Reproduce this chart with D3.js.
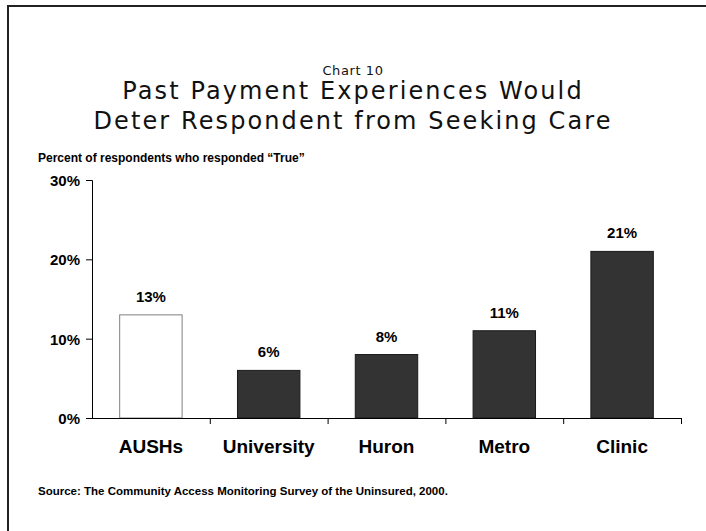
<!DOCTYPE html>
<html>
<head>
<meta charset="utf-8">
<script src="https://cdn.jsdelivr.net/npm/d3@7"></script>
<style>
  html, body { margin: 0; padding: 0; background: #fff; }
  svg { display: block; }
</style>
</head>
<body>
<svg id="chart" width="706" height="531"></svg>
<script>
const categories = ["AUSHs", "University", "Huron", "Metro", "Clinic"];
const values = [13, 6, 8, 11, 21];
const yTicks = [0, 10, 20, 30];
const chartNumber = "Chart 10";
const titleLines = ["Past Payment Experiences Would", "Deter Respondent from Seeking Care"];
const yAxisTitle = "Percent of respondents who responded \u201cTrue\u201d";
const sourceNote = "Source: The Community Access Monitoring Survey of the Uninsured, 2000.";

const svg = d3.select("#chart");
const W = 706, H = 531;

// Outer frame (extends beyond right and bottom edges)
svg.append("rect")
  .attr("x", 8).attr("y", 6)
  .attr("width", W + 20).attr("height", H + 20)
  .attr("fill", "#fff")
  .attr("stroke", "#222").attr("stroke-width", 2);

const plot = { left: 92, right: 681, top: 180, bottom: 418 };

const x = d3.scaleBand().domain(categories)
  .range([plot.left, plot.right]).paddingInner(0.47).paddingOuter(0.235);
const y = d3.scaleLinear().domain([0, 30]).range([plot.bottom, plot.top]);

const titleFont = "'DejaVu Sans', Verdana, sans-serif";
const boldFont = "'Liberation Sans', Arial, Helvetica, sans-serif";

svg.append("text")
  .attr("x", 353).attr("y", 75)
  .attr("text-anchor", "middle")
  .style("font-family", titleFont).style("font-size", "13px")
  .style("letter-spacing", "0.6px").attr("fill", "#111")
  .text(chartNumber);

svg.selectAll("text.title").data(titleLines).enter().append("text")
  .attr("class", "title")
  .attr("x", 353).attr("y", (d, i) => 99 + i * 30)
  .attr("text-anchor", "middle")
  .style("font-family", titleFont).style("font-size", "24px")
  .style("letter-spacing", "2.1px").attr("fill", "#111")
  .text(d => d);

svg.append("text")
  .attr("x", 38).attr("y", 162)
  .style("font-family", boldFont).style("font-size", "12px").style("font-weight", "bold")
  .attr("fill", "#000")
  .text(yAxisTitle);

// Bars
svg.selectAll("rect.bar").data(values).enter().append("rect")
  .attr("class", "bar")
  .attr("x", (d, i) => x(categories[i]))
  .attr("width", x.bandwidth())
  .attr("y", d => y(d))
  .attr("height", d => y(0) - y(d))
  .attr("fill", (d, i) => i === 0 ? "#ffffff" : "#333333")
  .attr("stroke", (d, i) => i === 0 ? "#808080" : "#1a1a1a")
  .attr("stroke-width", 1);

// Value labels
svg.selectAll("text.val").data(values).enter().append("text")
  .attr("class", "val")
  .attr("x", (d, i) => x(categories[i]) + x.bandwidth() / 2)
  .attr("y", d => y(d) - 13)
  .attr("text-anchor", "middle")
  .style("font-family", boldFont).style("font-size", "15px").style("font-weight", "bold")
  .attr("fill", "#000")
  .text(d => d + "%");

// Y axis
const yAxis = d3.axisLeft(y).tickValues(yTicks).tickSize(6).tickFormat(d => d + "%");
const gy = svg.append("g").attr("transform", `translate(${plot.left},0)`).call(yAxis);
gy.select(".domain").attr("stroke", "#000").attr("d", `M-6,${plot.top + 0.5}H0.5V${plot.bottom}`);
gy.selectAll(".tick line").attr("stroke", "#000");
gy.selectAll(".tick text")
  .attr("x", -12).attr("dy", "0.36em")
  .style("font-family", boldFont).style("font-size", "15px").style("font-weight", "bold")
  .attr("fill", "#000");

// X axis with tick marks at band boundaries
const bx = d3.scaleLinear().domain([0, categories.length]).range([plot.left, plot.right]);
const xAxis = d3.axisBottom(bx).tickValues(d3.range(1, categories.length + 1)).tickSize(6).tickFormat("");
const gx = svg.append("g").attr("transform", `translate(0,${plot.bottom})`).call(xAxis);
gx.select(".domain").attr("stroke", "#000").attr("d", `M${plot.left},0.5H${plot.right}`);
gx.selectAll(".tick line").attr("stroke", "#000");

svg.selectAll("text.cat").data(categories).enter().append("text")
  .attr("class", "cat")
  .attr("x", d => x(d) + x.bandwidth() / 2)
  .attr("y", 453)
  .attr("text-anchor", "middle")
  .style("font-family", boldFont).style("font-size", "19px").style("font-weight", "bold")
  .attr("fill", "#000")
  .text(d => d);

svg.append("text")
  .attr("x", 38).attr("y", 495)
  .style("font-family", boldFont).style("font-size", "11.5px").style("font-weight", "bold")
  .attr("fill", "#000")
  .text(sourceNote);
</script>
</body>
</html>
